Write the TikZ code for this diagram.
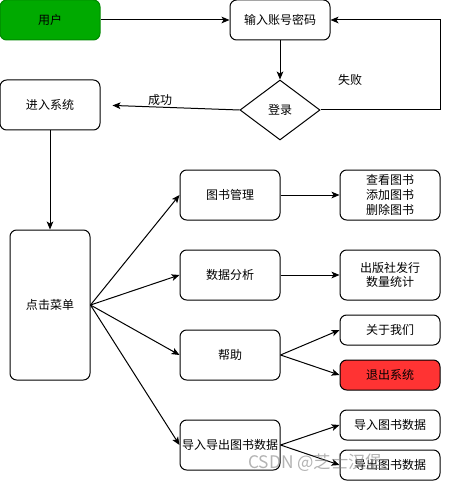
\documentclass[tikz,border=0pt]{standalone}
\usepackage{fontspec}
\newfontfamily\cjk{Noto Sans CJK SC}
\usetikzlibrary{shapes.geometric,arrows.meta}
\definecolor{usergreen}{HTML}{00AA00}
\definecolor{exitred}{HTML}{FF3333}
\tikzset{
  box/.style={draw=black, line width=0.75pt, rounded corners=5pt, inner sep=0pt,
    align=center, font=\cjk\fontsize{9pt}{11pt}\selectfont, text=black},
  conn/.style={draw=black, line width=0.75pt, -{Stealth[length=6pt,width=5pt,inset=1.5pt]}},
  lbl/.style={font=\cjk\fontsize{9pt}{11pt}\selectfont, text=black, inner sep=0pt},
}
\begin{document}
\begin{tikzpicture}[x=0.75pt,y=-0.75pt]
\useasboundingbox (0,0) rectangle (449,481);
% top row
\node[box, fill=usergreen, draw=usergreen!80!black, minimum width=75pt, minimum height=30pt] (user) at (50,20) {用户};
\node[box, minimum width=75pt, minimum height=30pt] (input) at (280,20) {输入账号密码};
\node[draw=black, line width=0.75pt, diamond, aspect=1.333, minimum width=60pt, minimum height=45pt, inner sep=0pt,
  font=\cjk\fontsize{9pt}{11pt}\selectfont] (login) at (280,110) {登录};
\node[box, minimum width=75pt, minimum height=37.5pt] (enter) at (50,105) {进入系统};
\node[box, minimum width=60pt, minimum height=112.5pt] (menu) at (50,305) {点击菜单};
% middle column
\node[box, minimum width=75pt, minimum height=37.5pt] (book) at (230,195) {图书管理};
\node[box, minimum width=75pt, minimum height=37.5pt] (data) at (230,275) {数据分析};
\node[box, minimum width=75pt, minimum height=37.5pt] (help) at (230,355) {帮助};
\node[box, minimum width=75pt, minimum height=37.5pt] (io) at (230,445) {导入导出图书数据};
% right column
\node[box, minimum width=75pt, minimum height=37.5pt] (bookops) at (390,195) {查看图书\\添加图书\\删除图书};
\node[box, minimum width=75pt, minimum height=37.5pt] (stats) at (390,275) {出版社发行\\数量统计};
\node[box, minimum width=75pt, minimum height=22.5pt] (about) at (390,330) {关于我们};
\node[box, fill=exitred, minimum width=75pt, minimum height=22.5pt] (exit) at (390,375) {退出系统};
\node[box, minimum width=75pt, minimum height=22.5pt] (imp) at (390,425) {导入图书数据};
\node[box, minimum width=75pt, minimum height=22.5pt] (exp) at (390,465) {导出图书数据};
% labels
\node[lbl] (ok) at (160,100) {成功};
\node[lbl] (fail) at (350,80) {失败};
\coordinate (fc1) at (440,110);
\coordinate (fc2) at (440,20);
% connectors
\draw[conn] (user.east) -- (input.west);
\draw[conn] (input.south) -- (login.north);
\draw[conn, shorten >=9pt] (login.west) -- (enter.east);
\draw[conn] (login.east) -- (fc1) -- (fc2) -- (input.east);
\draw[conn] (enter.south) -- (menu.north);
\draw[conn] (menu.east) -- (book.west);
\draw[conn] (menu.east) -- (data.west);
\draw[conn] (menu.east) -- (help.west);
\draw[conn] (menu.east) -- (io.west);
\draw[conn] (book.east) -- (bookops.west);
\draw[conn] (data.east) -- (stats.west);
\draw[conn] (help.east) -- (about.west);
\draw[conn] (help.east) -- (exit.west);
\draw[conn] (io.east) -- (imp.west);
\draw[conn] (io.east) -- (exp.west);
% watermark
\node[anchor=west, inner sep=0pt, text=gray, opacity=0.6, font=\cjk\fontsize{13pt}{15pt}\selectfont] (wm) at (248,463) {CSDN @芝士汉堡};
\end{tikzpicture}
\end{document}
